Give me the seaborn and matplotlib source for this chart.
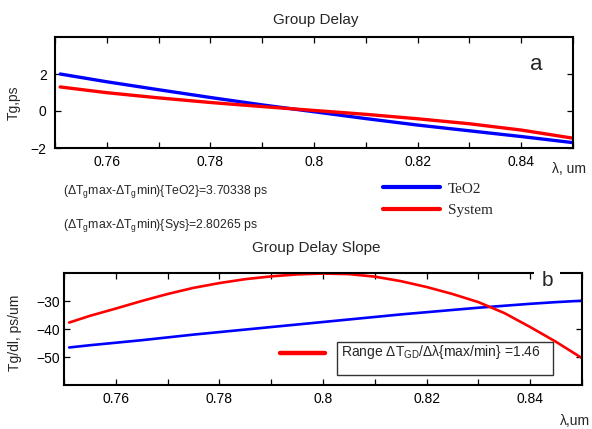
import pandas as pd
import seaborn as sns
import matplotlib.pyplot as plt
from matplotlib.lines import Line2D
from matplotlib.patches import Rectangle

# Group delay (top panel)
lam_top = [0.751, 0.76, 0.77, 0.78, 0.79, 0.80, 0.81, 0.82, 0.83, 0.84, 0.85]
tg_teo2 = [2.00, 1.58, 1.15, 0.73, 0.33, -0.04, -0.41, -0.76, -1.07, -1.38, -1.71]
tg_sys = [1.30, 0.99, 0.71, 0.46, 0.24, 0.03, -0.18, -0.42, -0.69, -1.03, -1.47]

# Group delay slope (bottom panel)
lam_bot = [0.751, 0.755, 0.76, 0.765, 0.77, 0.775, 0.78, 0.785, 0.79, 0.795, 0.80,
           0.805, 0.81, 0.815, 0.82, 0.825, 0.83, 0.835, 0.84, 0.845, 0.85]
slope_teo2 = [-46.6, -45.8, -44.9, -44.0, -43.0, -42.0, -41.1, -40.2, -39.3, -38.4, -37.5,
              -36.6, -35.7, -34.8, -34.0, -33.2, -32.4, -31.7, -31.0, -30.4, -29.9]
slope_sys = [-37.7, -35.3, -32.7, -30.0, -27.5, -25.3, -23.6, -22.2, -21.2, -20.5, -20.2,
             -20.4, -21.3, -22.9, -25.0, -27.5, -30.4, -34.3, -39.3, -44.6, -50.4]

x_ticks = [0.75, 0.76, 0.77, 0.78, 0.79, 0.80, 0.81, 0.82, 0.83, 0.84, 0.85]
x_labels = ['', '0.76', '', '0.78', '', '0.8', '', '0.82', '', '0.84', '']
series = ['TeO2', 'System']
colors = {'TeO2': '#0000ff', 'System': '#ff0000'}

top = pd.DataFrame({'lam': lam_top * 2, 'val': tg_teo2 + tg_sys,
                    'series': ['TeO2'] * len(lam_top) + ['System'] * len(lam_top)})
bot = pd.DataFrame({'lam': lam_bot * 2, 'val': slope_teo2 + slope_sys,
                    'series': ['TeO2'] * len(lam_bot) + ['System'] * len(lam_bot)})

sns.set_style('ticks')
plt.rcParams['font.family'] = ['Liberation Sans', 'DejaVu Sans']
plt.rcParams['mathtext.fontset'] = 'custom'
plt.rcParams['mathtext.rm'] = 'Liberation Sans'

fig = plt.figure(figsize=(5.92, 4.29), dpi=100)
ax1 = fig.add_axes([55 / 592, 1 - 148 / 429, 518 / 592, 111 / 429])
ax2 = fig.add_axes([64 / 592, 1 - 385 / 429, 518 / 592, 112 / 429])

sns.lineplot(data=top, x='lam', y='val', hue='series', hue_order=series, palette=colors,
             linewidth=2.4, legend=False, ax=ax1)
sns.lineplot(data=bot, x='lam', y='val', hue='series', hue_order=series, palette=colors,
             linewidth=1.9, legend=False, ax=ax2)

for ax in (ax1, ax2):
    ax.set_xlim(0.75, 0.85)
    ax.set_xticks(x_ticks)
    ax.set_xticklabels(x_labels)
    ax.tick_params(direction='in', length=4, width=0.9, top=True, right=True,
                   labelsize=10, colors='black')
    ax.tick_params(axis='x', pad=5)
    for s in ax.spines.values():
        s.set_linewidth(1.5)
        s.set_color('black')

ax1.set_ylim(-2, 4)
ax1.set_yticks([-2, 0, 2])
ax1.tick_params(axis='y', pad=6)
ax2.set_ylim(-60, -20)
ax2.set_yticks([-50, -40, -30])
ax2.tick_params(axis='y', pad=3)

ax1.set_xlabel('λ, um', fontsize=10)
ax1.xaxis.set_label_coords(0.992, -0.13)
ax1.set_ylabel('Tg,ps', fontsize=10)
ax1.yaxis.set_label_coords(-0.066, 0.41)
ax2.set_xlabel('λ,um', fontsize=10)
ax2.xaxis.set_label_coords(0.986, -0.26)
ax2.set_ylabel('Tg/dl, ps/um', fontsize=10)
ax2.yaxis.set_label_coords(-0.082, 0.47)

fig.text(316 / 592, 1 - 20 / 429, 'Group Delay', ha='center', va='center', fontsize=11)
fig.text(316 / 592, 1 - 248 / 429, 'Group Delay Slope', ha='center', va='center', fontsize=11)

ax1.text(536 / 592, 1 - 65 / 429, 'a', transform=fig.transFigure, ha='center', va='center',
         fontsize=16)
ax2.text(547 / 592, 1 - 281 / 429, 'b', transform=fig.transFigure, ha='center', va='center',
         fontsize=15, zorder=5,
         bbox=dict(facecolor='white', edgecolor='none', boxstyle='square,pad=0.35'))

fig.text(63 / 592, 1 - 192 / 429, '(ΔT$_\\mathrm{g}$max-ΔT$_\\mathrm{g}$min){TeO2}=3.70338 ps',
         ha='left', va='center', fontsize=8.8)
fig.text(63 / 592, 1 - 225 / 429, '(ΔT$_\\mathrm{g}$max-ΔT$_\\mathrm{g}$min){Sys}=2.80265 ps',
         ha='left', va='center', fontsize=8.8)

handles = [Line2D([], [], color=colors[s], linewidth=3) for s in series]
fig.legend(handles, series, loc='upper left', bbox_to_anchor=(383 / 592, 1 - 182 / 429),
           frameon=False, handlelength=3.7, handletextpad=0.55, labelspacing=0.5,
           borderpad=0, borderaxespad=0, prop={'family': 'Liberation Serif', 'size': 11})

# range annotation box
ax2.add_patch(Rectangle((0.527, 0.089), 0.417, 0.295, transform=ax2.transAxes,
                        facecolor='white', edgecolor='#333333', linewidth=1, zorder=4))
ax2.text(0.535, 0.295, 'Range ΔT$_\\mathrm{GD}$/Δλ{max/min} =1.46', transform=ax2.transAxes,
         ha='left', va='center', fontsize=10, zorder=5)
ax2.add_line(Line2D([0.417, 0.504], [0.286, 0.286], transform=ax2.transAxes,
                    color='#ff0000', linewidth=3.2))

fig.savefig('out.png', dpi=100)
